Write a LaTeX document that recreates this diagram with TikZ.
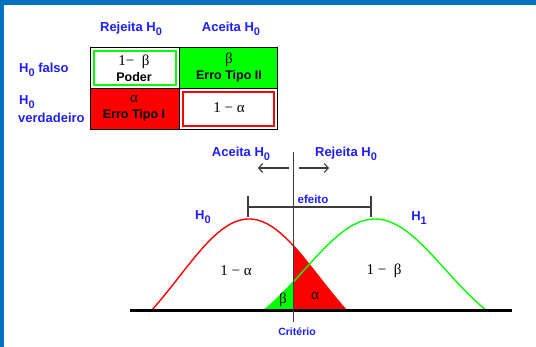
\documentclass[tikz,border=0pt]{standalone}
\usepackage{fontspec}
\setmainfont{Liberation Sans}
\newfontfamily\serifgk{Liberation Serif}
\usetikzlibrary{arrows.meta}
\definecolor{bord}{RGB}{0,112,192}
\definecolor{lblue}{RGB}{30,30,255}
\definecolor{gr}{RGB}{0,255,0}
\definecolor{rd}{RGB}{255,0,0}
\definecolor{ln}{RGB}{60,60,60}
\newcommand\Hsub[1]{H\raisebox{-4pt}{\fontsize{11}{11}\selectfont #1}}
\begin{document}
\begin{tikzpicture}[x=1pt,y=-1pt,
  lbl/.style={text=lblue,font=\bfseries\fontsize{13}{14}\selectfont,inner sep=0pt,align=left},
  celltext/.style={font=\bfseries\fontsize{12.5}{16}\selectfont,inner sep=0pt,align=center},
  mathlbl/.style={font=\serifgk\fontsize{15}{16}\selectfont,inner sep=0pt},
  cellbox/.style={draw=black,line width=1pt},
  gline/.style={draw=ln,line width=1.1pt},
  arr/.style={draw=ln,line width=1.1pt,-{Straight Barb[length=4pt,width=9pt]}},
  curve/.style={line width=1.4pt,smooth}]
\useasboundingbox (0,0) rectangle (536,347);
\fill[bord] (0,0) rectangle (536,5);
\fill[bord] (0,0) rectangle (4,347);

% table
\node[cellbox,fill=white,minimum width=89pt,minimum height=41pt,anchor=north west] (c11) at (90,47) {};
\node[cellbox,fill=gr,minimum width=98pt,minimum height=41pt,anchor=north west] (c12) at (179,47) {};
\node[cellbox,fill=rd,minimum width=89pt,minimum height=41pt,anchor=north west] (c21) at (90,88) {};
\node[cellbox,fill=white,minimum width=98pt,minimum height=41pt,anchor=north west] (c22) at (179,88) {};
\draw[gr,line width=2pt] (93.5,51) rectangle (175.5,85);
\draw[rd,line width=2pt] (182.5,92) rectangle (273.5,126);
\node[celltext] (t11) at (134,68) {{\serifgk\mdseries\fontsize{15}{15}\selectfont 1−\ \ β}\\Poder};
\node[celltext] (t12) at (229,68) {{\serifgk\mdseries\fontsize{15}{15}\selectfont β}\\Erro Tipo II};
\node[celltext] (t21) at (134,108) {{\serifgk\mdseries\fontsize{15}{15}\selectfont α}\\Erro Tipo I};
\node[mathlbl] (t22) at (229,108) {1 − α};

\node[lbl] (hrej) at (131,29) {Rejeita \Hsub{0}};
\node[lbl] (hace) at (231,29) {Aceita \Hsub{0}};
\node[lbl,anchor=west] (hf) at (19,70) {\Hsub{0} falso};
\node[lbl,anchor=west] (hv1) at (19,102) {\Hsub{0}};
\node[lbl,anchor=west] (hv2) at (18,118) {verdadeiro};

% chart fills
\fill[rd] (293,311) -- plot[domain=293:347,samples=30,smooth] (\x,{311-147.27*(exp(-((\x-249)*(\x-249))/9800)-0.3753)}) -- (347,311) -- cycle;
\fill[gr] (263,311) -- plot[domain=263:293,samples=20,smooth] (\x,{311-127.4*(exp(-((\x-375)*(\x-375))/9800)-0.278)}) -- (293,311) -- cycle;
% curves
\draw[rd,curve] plot[domain=151:347,samples=80] (\x,{311-147.27*(exp(-((\x-249)*(\x-249))/9800)-0.3753)});
\draw[gr,curve] plot[domain=263:487,samples=80] (\x,{311-127.4*(exp(-((\x-375)*(\x-375))/9800)-0.278)});
% baseline
\coordinate (bl) at (130,311);
\coordinate (br) at (512,311);
\draw[black,line width=3pt] (bl) -- (br);
% criterion
\coordinate (ctop) at (293,152);
\coordinate (cbot) at (293,322);
\draw[gline,line width=1pt] (ctop) -- (cbot);
\node[lbl,font=\bfseries\fontsize{10.5}{12}\selectfont] (crit) at (297,332) {Critério};
% arrows
\coordinate (la0) at (289,168);
\coordinate (la1) at (258,168);
\coordinate (ra0) at (299,168);
\coordinate (ra1) at (329,168);
\draw[arr] (la0) -- (la1);
\draw[arr] (ra0) -- (ra1);
\node[lbl] (ach) at (241,154) {Aceita \Hsub{0}};
\node[lbl] (rjh) at (346,154) {Rejeita \Hsub{0}};
% efeito
\coordinate (e1t) at (248,196);
\coordinate (e1b) at (248,217);
\coordinate (e2t) at (371,196);
\coordinate (e2b) at (371,217);
\coordinate (e1m) at (248,207);
\coordinate (e2m) at (371,207);
\draw[gline] (e1t) -- (e1b);
\draw[gline] (e2t) -- (e2b);
\draw[gline] (e1m) -- (e2m);
\node[lbl,font=\bfseries\fontsize{11.5}{12}\selectfont] (ef) at (313,199) {efeito};
% curve labels
\node[lbl] (h0) at (203,217) {\Hsub{0}};
\node[lbl] (h1) at (419,218) {\Hsub{1}};
\node[mathlbl] (oma) at (236,271) {1 − α};
\node[mathlbl] (omb) at (384,271) {1 −\ \ β};
\node[mathlbl] (bt) at (283,300) {β};
\node[mathlbl] (al) at (315,296) {α};
\end{tikzpicture}
\end{document}
